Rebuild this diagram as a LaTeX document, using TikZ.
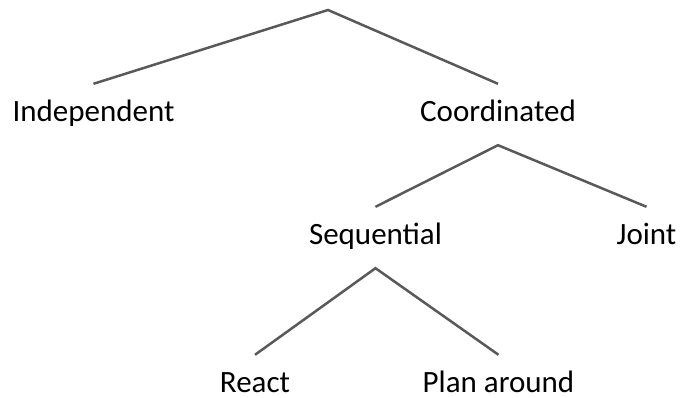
\documentclass[tikz,border=0pt]{standalone}
\usepackage{fontspec}
\setmainfont{Carlito}
\tikzset{
  lbl/.style={anchor=base, inner xsep=0pt, inner ysep=15pt, text height=23pt, text depth=8pt,
    font=\fontsize{31}{37}\selectfont},
  branch/.style={draw=black!65, line width=2.5pt}
}

\begin{document}
\begin{tikzpicture}[x=1pt, y=-1pt]
\useasboundingbox (0,0) rectangle (681,398);
\coordinate (top) at (328,10);
\node[lbl] (indep) at (93.5,122) {Independent};
\node[lbl] (coord) at (498,122) {Coordinated};
\node[lbl] (seq) at (375.5,245) {Sequential};
\node[lbl] (joint) at (646.5,245) {Joint};
\node[lbl] (react) at (255,393) {React};
\node[lbl] (plan) at (498.5,393) {Plan around};
% branches
\foreach \l/\p/\r in {indep/top/coord, joint/coord.south/seq, react/seq.south/plan}
    \draw[branch] (\l.north) -- (\p) -- (\r.north);
\end{tikzpicture}
\end{document}
